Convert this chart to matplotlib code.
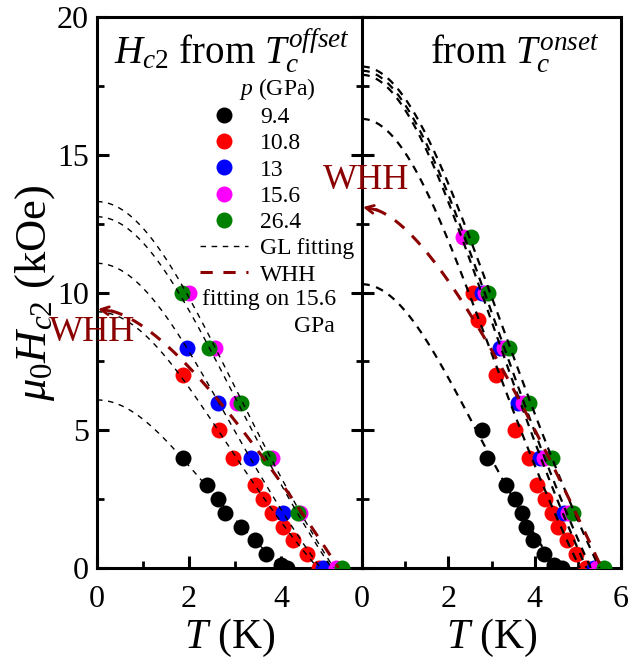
import numpy as np
import matplotlib
matplotlib.use("Agg")
import matplotlib.pyplot as plt
from matplotlib.lines import Line2D
from matplotlib.ticker import MultipleLocator, FixedLocator

plt.rcParams['font.family'] = ['Liberation Serif', 'DejaVu Serif']
plt.rcParams['mathtext.fontset'] = 'custom'
plt.rcParams['mathtext.rm'] = 'Liberation Serif'
plt.rcParams['mathtext.it'] = 'Liberation Serif:italic'
plt.rcParams['mathtext.bf'] = 'Liberation Serif:bold'

# ---------------- data ----------------
pressures = ['9.4', '10.8', '13', '15.6', '26.4']
colors = ['black', '#ff0000', '#0000ff', '#ff00ff', '#008000']

# Hc2 (kOe) vs T (K) from T_c^offset
off_T_94 = [1.87, 2.40, 2.63, 2.78, 3.12, 3.43, 3.67, 4.00, 4.14]
off_H_94 = [4.0, 3.0, 2.5, 2.0, 1.5, 1.0, 0.5, 0.1, 0.0]
off_T_108 = [1.87, 2.65, 2.96, 3.44, 3.61, 3.81, 4.04, 4.26, 4.56, 4.82]
off_H_108 = [7.0, 5.0, 4.0, 3.0, 2.5, 2.0, 1.5, 1.0, 0.5, 0.0]
off_T_13 = [1.95, 2.64, 3.34, 4.04, 4.92]
off_H_13 = [8.0, 6.0, 4.0, 2.0, 0.0]
off_T_156 = [2.00, 2.57, 3.05, 3.80, 4.41, 5.20]
off_H_156 = [10.0, 8.0, 6.0, 4.0, 2.0, 0.0]
off_T_264 = [1.84, 2.44, 3.13, 3.72, 4.36, 5.32]
off_H_264 = [10.0, 8.0, 6.0, 4.0, 2.0, 0.0]

# Hc2 (kOe) vs T (K) from T_c^onset
on_T_94 = [2.77, 2.89, 3.33, 3.55, 3.71, 3.79, 3.97, 4.21, 4.44, 4.63]
on_H_94 = [5.0, 4.0, 3.0, 2.5, 2.0, 1.5, 1.0, 0.5, 0.1, 0.0]
on_T_108 = [2.57, 2.69, 3.11, 3.54, 3.88, 4.06, 4.23, 4.41, 4.54, 4.76, 4.95, 5.18]
on_H_108 = [10.0, 9.0, 7.0, 5.0, 4.0, 3.0, 2.5, 2.0, 1.5, 1.0, 0.5, 0.0]
on_T_13 = [2.77, 3.19, 3.61, 4.12, 4.67, 5.38]
on_H_13 = [10.0, 8.0, 6.0, 4.0, 2.0, 0.0]
on_T_156 = [2.34, 2.85, 3.28, 3.73, 4.21, 4.77, 5.44]
on_H_156 = [12.0, 10.0, 8.0, 6.0, 4.0, 2.0, 0.0]
on_T_264 = [2.52, 2.92, 3.41, 3.87, 4.41, 4.89, 5.60]
on_H_264 = [12.0, 10.0, 8.0, 6.0, 4.0, 2.0, 0.0]

# GL fit parameters: Hc2(0) (kOe) and Tc (K) per pressure
gl_off_H0 = [6.1, 9.3, 11.06, 13.3, 12.75]
gl_off_Tc = [4.05, 4.8, 4.86, 5.15, 5.1]
gl_on_H0 = [10.3, 16.3, 17.9, 18.05, 18.2]
gl_on_Tc = [4.5, 5.05, 5.2, 5.3, 5.5]

# WHH fit on 15.6 GPa: Hc2(0) (kOe), Tc (K)
whh_off = (9.4, 5.25)
whh_on = (13.1, 5.55)

off_T = [off_T_94, off_T_108, off_T_13, off_T_156, off_T_264]
off_H = [off_H_94, off_H_108, off_H_13, off_H_156, off_H_264]
on_T = [on_T_94, on_T_108, on_T_13, on_T_156, on_T_264]
on_H = [on_H_94, on_H_108, on_H_13, on_H_156, on_H_264]

WHH_COLOR = '#8b0000'


def gl_curve(T, H0, Tc):
    t2 = (T / Tc) ** 2
    return H0 * (1 - t2) / (1 + t2)


def digamma(x):
    x = np.array(x, dtype=float)
    res = np.zeros_like(x)
    for _ in range(8):
        m = x < 8
        res[m] -= 1.0 / x[m]
        x[m] += 1.0
    x2 = 1.0 / (x * x)
    res += np.log(x) - 0.5 / x - x2 * (1/12 - x2 * (1/120 - x2 / 252))
    return res


def whh_curve(T, H0, Tc):
    t = np.clip(T / Tc, 1e-4, 1 - 1e-9)
    psi_half = digamma(np.array([0.5]))[0]
    lo = np.zeros_like(t)
    hi = np.ones_like(t)
    target = np.log(1.0 / t)
    for _ in range(60):
        mid = 0.5 * (lo + hi)
        f = digamma(0.5 + mid / (2 * t)) - psi_half - target
        hi = np.where(f > 0, mid, hi)
        lo = np.where(f > 0, lo, mid)
    h = 0.5 * (lo + hi)
    h0 = 2 * np.exp(psi_half)
    return H0 * h / h0


# ---------------- figure ----------------
fig = plt.figure(figsize=(6.28, 6.66), dpi=100)
W, Hf = 628.0, 666.0
axL = fig.add_axes([97 / W, 98 / Hf, 266 / W, 551 / Hf])
axR = fig.add_axes([362 / W, 98 / Hf, 259 / W, 551 / Hf])

MS = 11.5
for ax, Ts, Hs, H0s, Tcs, whh, gl_lw in [
        (axL, off_T, off_H, gl_off_H0, gl_off_Tc, whh_off, 1.0),
        (axR, on_T, on_H, gl_on_H0, gl_on_Tc, whh_on, 1.6)]:
    for T, H, c in zip(Ts, Hs, colors):
        ax.plot(T, H, 'o', color=c, ms=MS, mec='none', zorder=3)
    for H0, Tc in zip(H0s, Tcs):
        tt = np.linspace(0, Tc, 300)
        ax.plot(tt, gl_curve(tt, H0, Tc), color='black', lw=gl_lw,
                dashes=(4, 4) if gl_lw < 1.3 else (3.5, 3), zorder=4)
    H0w, Tcw = whh
    tt = np.linspace(0.3, Tcw, 300)
    ax.plot(tt, whh_curve(tt, H0w, Tcw), color=WHH_COLOR, lw=2.2,
            dashes=(4, 3.5), zorder=5)
    ax.annotate('', xy=(0.02, H0w), xytext=(0.35, whh_curve(np.array([0.35]), H0w, Tcw)[0]),
                arrowprops=dict(arrowstyle='->', color=WHH_COLOR, lw=2.0,
                                mutation_scale=14, shrinkA=0, shrinkB=0),
                zorder=5)

for ax in (axL, axR):
    ax.set_ylim(0, 20)
    for s in ax.spines.values():
        s.set_linewidth(2.2)
    ax.yaxis.set_major_locator(MultipleLocator(5))
    ax.yaxis.set_minor_locator(MultipleLocator(2.5))
    ax.tick_params(which='major', direction='in', length=8.5, width=2.2,
                   labelsize=23, top=False)
    ax.tick_params(which='minor', direction='in', length=5, width=2.0, top=False)
    ax.tick_params(axis='x', which='major', pad=12)
    ax.tick_params(axis='y', which='major', pad=6)
    ax.set_xlabel(r'$T$ (K)', fontsize=30, labelpad=2)

axL.set_xlim(0, 266 / 46.0)
axL.xaxis.set_major_locator(FixedLocator([0, 2, 4]))
axL.xaxis.set_minor_locator(FixedLocator([1, 3, 5]))
axL.tick_params(axis='y', which='both', left=True, right=True)
axL.set_ylabel(r'$\mu_0H_{c2}$ (kOe)', fontsize=32, labelpad=0)

axR.set_xlim(0, 6)
axR.xaxis.set_major_locator(FixedLocator([0, 2, 4, 6]))
axR.xaxis.set_minor_locator(FixedLocator([1, 3, 5]))
axR.tick_params(axis='y', which='both', left=True, right=False, labelleft=False)

# panel titles
axL.text(0.064, 0.916, r'$H_{c2}$ from $T_c^{offset}$', transform=axL.transAxes,
         fontsize=28, ha='left', va='baseline')
axR.text(0.263, 0.916, r'from $T_c^{onset}$', transform=axR.transAxes,
         fontsize=28, ha='left', va='baseline')

# WHH labels
axL.text(-0.11, 8.53, 'WHH', color=WHH_COLOR, fontsize=26, ha='center',
         va='center', clip_on=False, zorder=6)
axR.text(0.09, 14.08, 'WHH', color=WHH_COLOR, fontsize=26, ha='center',
         va='center', clip_on=False, zorder=6)

# legend
handles = [Line2D([], [], ls='none', marker='o', ms=MS, color=c, mec='none')
           for c in colors]
handles.append(Line2D([], [], color='black', lw=1.0, dashes=(4, 4)))
handles.append(Line2D([], [], color=WHH_COLOR, lw=2.2, dashes=(4, 3.5)))
labels = pressures + ['GL fitting', 'WHH']
leg = axL.legend(handles, labels, title=r'$p$ (GPa)', loc='upper left',
                 bbox_to_anchor=(0.387, 0.893), frameon=False, fontsize=17,
                 title_fontsize=17, handlelength=2.05, handletextpad=0.5,
                 labelspacing=0.2, borderpad=0, borderaxespad=0)
leg.set_zorder(7)
axL.text(0.395, 0.488, 'fitting on 15.6', transform=axL.transAxes,
         fontsize=17, ha='left', va='center')
axL.text(0.895, 0.439, 'GPa', transform=axL.transAxes,
         fontsize=17, ha='right', va='center')

fig.savefig('out.png', dpi=100)
